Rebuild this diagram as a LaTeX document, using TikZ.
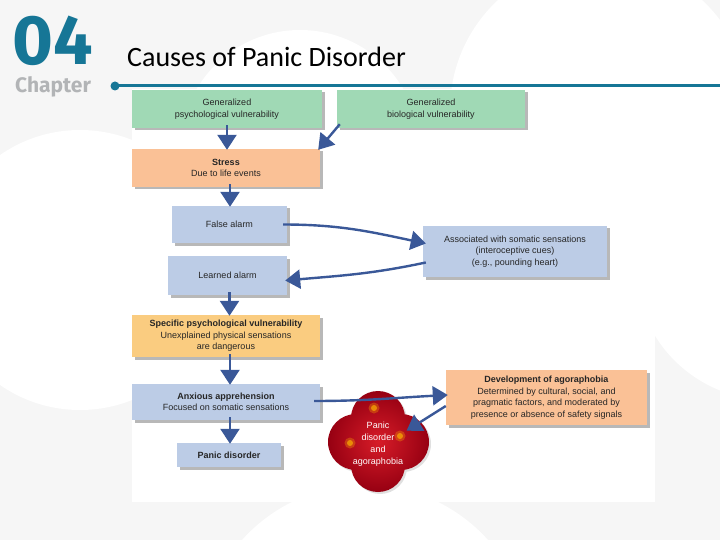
\documentclass[tikz,border=0pt]{standalone}
\usepackage{fontspec}
\setmainfont{Liberation Sans}
\newfontfamily\titlefont{Carlito}
\newfontfamily\chapfont{Fira Sans}
\usetikzlibrary{arrows.meta,shadows}
\definecolor{slidebg}{RGB}{246,246,246}
\definecolor{teal4}{RGB}{22,118,150}
\definecolor{chapgray}{RGB}{178,180,182}
\definecolor{greenbox}{RGB}{160,217,181}
\definecolor{peachbox}{RGB}{250,193,150}
\definecolor{yellowbox}{RGB}{250,204,128}
\definecolor{bluebox}{RGB}{188,204,230}
\definecolor{txt}{RGB}{38,38,38}
\definecolor{arrowblue}{RGB}{58,88,152}
\definecolor{arrowlight}{RGB}{120,145,195}
\definecolor{blobin}{RGB}{215,28,40}
\definecolor{blobout}{RGB}{150,0,18}
\tikzset{
  box/.style={inner sep=2pt, align=center, text=txt,
    font=\fontsize{9}{11.5}\selectfont,
    drop shadow={shadow xshift=2.5pt,shadow yshift=-2.5pt,fill=black,opacity=0.28}},
  fat/.style={draw=arrowblue, line width=2.4pt,
    -{Triangle[width=19pt,length=15pt,fill=arrowblue]}},
}
\begin{document}
\begin{tikzpicture}[x=1pt,y=-1pt]
\useasboundingbox (0,0) rectangle (720,540);
% slide background
\fill[slidebg] (0,0) rectangle (720,540);
\begin{scope}
\clip (0,0) rectangle (720,540);
\fill[white] (80,270) circle[radius=140];
\fill[white] (770,265) circle[radius=135];
\fill[white] (365,650) circle[radius=165];
\fill[white] (600,110) circle[radius=150];
\fill[white] (300,150) circle[radius=120];
\end{scope}
% header
\node[anchor=base west, inner sep=0pt, text=teal4, font=\chapfont\bfseries\fontsize{70}{70}\selectfont] (num) at (12,65) {04};
\node[anchor=base west, inner sep=0pt, text=chapgray, font=\chapfont\bfseries\fontsize{21}{21}\selectfont] (chap) at (15,93) {Chapter};
\node[anchor=base west, inner sep=0pt, text=black, font=\titlefont\fontsize{28}{28}\selectfont] (title) at (127,67) {Causes of Panic Disorder};
\coordinate (ls) at (115,86);
\coordinate (le) at (720,86);
\draw[teal4, line width=3pt] (ls) -- (le);
\fill[teal4] (ls) circle[radius=4.5];
% image area
\fill[white] (132,89) rectangle (655,502);
% boxes
\node[box, fill=greenbox, minimum width=190pt, minimum height=38pt] (gpv) at (227,109) {Generalized\\psychological vulnerability};
\node[box, fill=greenbox, minimum width=188pt, minimum height=38pt] (gbv) at (431,109) {Generalized\\biological vulnerability};
\node[box, fill=peachbox, minimum width=188pt, minimum height=38pt] (stress) at (226,168) {\textbf{Stress}\\Due to life events};
\node[box, fill=bluebox, minimum width=115pt, minimum height=37pt] (false) at (229.5,224.5) {False alarm};
\node[box, fill=bluebox, minimum width=184pt, minimum height=51pt] (assoc) at (515,251.5) {Associated with somatic sensations\\(interoceptive cues)\\(e.g., pounding heart)};
\node[box, fill=bluebox, minimum width=119pt, minimum height=39pt] (learned) at (227.5,275.5) {Learned alarm};
\node[box, fill=yellowbox, minimum width=188pt, minimum height=42pt] (spec) at (226,336) {\textbf{Specific psychological vulnerability}\\Unexplained physical sensations\\are dangerous};
\node[box, fill=bluebox, minimum width=188pt, minimum height=36pt] (anx) at (226,402) {\textbf{Anxious apprehension}\\Focused on somatic sensations};
\node[box, fill=bluebox, minimum width=104pt, minimum height=24pt] (panic) at (229,455) {\textbf{Panic disorder}};
\node[box, fill=peachbox, minimum width=201pt, minimum height=55pt] (agora) at (546.5,397.5) {\textbf{Development of agoraphobia}\\Determined by cultural, social, and\\pragmatic factors, and moderated by\\presence or absence of safety signals};
% blob
\fill[black, opacity=0.12] (380,420) circle[radius=27] (380,467) circle[radius=27] (358,444) circle[radius=28] (403,444) circle[radius=28];
\shade[inner color=blobin, outer color=blobout] (378,418) circle[radius=27] (378,465) circle[radius=27] (356,442) circle[radius=28] (401,442) circle[radius=28] (378,441) circle[radius=30];
\foreach \p in {(374,408),(350,443),(400,436)} {
  \fill[orange!60!yellow, opacity=0.3] \p circle[radius=5.5];
  \fill[orange!50!yellow, opacity=0.6] \p circle[radius=3];
}
\node[text=white, align=center, font=\fontsize{9}{12}\selectfont] (blob) at (378,444) {Panic\\disorder\\and\\agoraphobia};
% arrows
\draw[fat] ([yshift=3pt]gpv.south) -- ([yshift=-1pt]gpv.south |- stress.north);
\draw[fat] ([xshift=3pt,yshift=4pt]gbv.south west) -- ([xshift=-2pt,yshift=-1pt]stress.north east);
\draw[fat] ([xshift=4pt,yshift=3pt]stress.south) -- ([xshift=4pt,yshift=-1pt]stress.south |- false.north);
\draw[fat] ([xshift=-4pt]false.east) to[out=0,in=168] ([xshift=3pt,yshift=8pt]assoc.west);
\draw[fat] ([xshift=3pt,yshift=-11pt]assoc.west) to[out=192,in=5] ([xshift=-2pt,yshift=-5pt]learned.east);
\draw[fat] ([xshift=2pt,yshift=3pt]learned.south) -- ([xshift=2pt,yshift=-1pt]learned.south |- spec.north);
\draw[fat] ([xshift=4pt,yshift=3pt]spec.south) -- ([xshift=4pt,yshift=-1pt]spec.south |- anx.north);
\draw[fat] ([xshift=4pt,yshift=3pt]anx.south) -- ([xshift=4pt,yshift=-1pt]anx.south |- panic.north);
\draw[fat] ([xshift=-6pt,yshift=1pt]anx.east) to[out=0,in=183] ([xshift=2pt,yshift=2.5pt]agora.west);
\draw[fat] ([yshift=-8.5pt]agora.west) -- (blob.25);
\end{tikzpicture}
\end{document}
